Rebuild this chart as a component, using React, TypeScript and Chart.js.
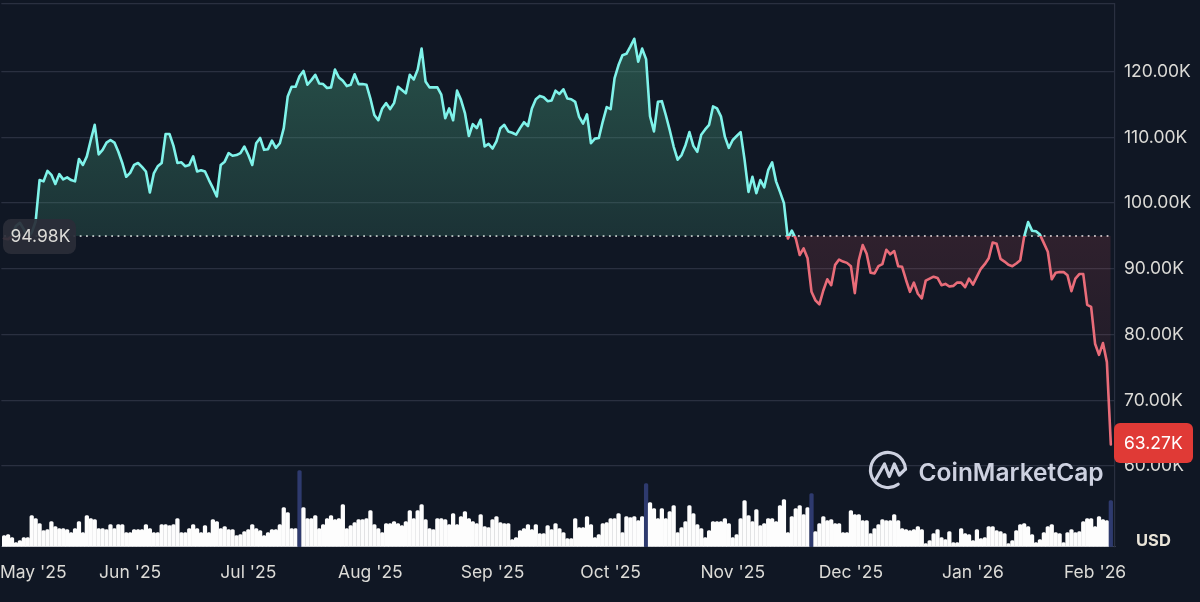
import React, { useEffect, useRef } from 'react';
import { Chart, registerables } from 'chart.js';

Chart.register(...registerables);

// daily close in thousands USD, day 0 = Apr 30 2025
const prices: number[] = [
  94.6, 94.5, 95.0, 96.5, 97.0, 96.0, 94.8, 95.5, 97.2, 103.5, 103.3, 104.9, 104.3, 102.9, 104.4, 103.6, 103.9, 103.5, 103.3, 106.7,
  105.8, 107.1, 109.6, 111.9, 107.4, 108.1, 109.2, 109.6, 109.2, 107.8, 106.1, 104.0, 104.6, 105.8, 106.1, 105.5, 104.8, 101.6, 104.5, 105.6,
  106.1, 110.5, 110.5, 108.7, 106.1, 106.2, 105.6, 105.8, 107.1, 104.8, 105.0, 104.8, 103.5, 102.3, 101.0, 105.8, 106.3, 107.6, 107.2, 107.3,
  107.6, 108.6, 107.3, 105.8, 109.1, 109.9, 108.1, 108.2, 109.5, 108.4, 109.1, 111.4, 116.2, 117.7, 117.7, 119.3, 120.1, 118.0, 118.7, 119.5,
  118.2, 118.1, 117.5, 117.6, 120.3, 119.1, 118.6, 117.8, 118.0, 119.6, 118.1, 118.1, 118.0, 115.9, 113.4, 112.6, 114.4, 115.2, 114.3, 115.2,
  117.7, 117.2, 116.7, 119.5, 118.8, 120.3, 123.5, 118.5, 117.6, 117.6, 117.6, 116.5, 112.9, 114.4, 112.6, 117.1, 115.7, 113.7, 110.2, 112.0,
  111.4, 112.7, 108.6, 109.0, 108.3, 109.4, 111.4, 111.9, 110.9, 110.7, 110.4, 111.4, 112.3, 111.7, 114.4, 115.8, 116.3, 116.1, 115.5, 115.6,
  117.1, 116.6, 117.3, 115.9, 115.8, 115.4, 113.1, 112.1, 113.5, 109.1, 109.8, 109.9, 112.4, 114.6, 114.3, 119.0, 121.0, 122.5, 122.7, 123.8,
  125.0, 121.5, 123.5, 121.9, 113.2, 110.9, 115.4, 115.5, 113.4, 111.1, 108.6, 106.6, 107.3, 108.8, 110.8, 108.7, 107.8, 110.4, 111.2, 111.9,
  114.7, 114.4, 113.2, 110.1, 108.4, 109.6, 110.2, 110.8, 106.6, 101.7, 104.0, 101.5, 103.5, 102.4, 105.0, 106.2, 103.3, 101.7, 100.0, 94.6,
  95.8, 94.6, 92.1, 93.1, 91.6, 86.5, 85.2, 84.6, 86.7, 88.4, 87.5, 90.6, 91.4, 91.1, 90.9, 90.4, 86.3, 91.3, 93.6, 92.3,
  89.4, 89.3, 90.4, 90.7, 92.9, 92.2, 92.7, 90.4, 90.3, 88.3, 86.5, 87.9, 86.2, 85.5, 88.2, 88.5, 88.8, 88.6, 87.5, 87.7,
  87.3, 87.4, 87.9, 87.9, 87.2, 88.5, 87.6, 88.8, 90.0, 90.7, 91.6, 94.0, 93.8, 91.5, 91.1, 90.6, 90.4, 90.8, 91.3, 94.9,
  97.1, 95.8, 95.7, 95.2, 93.9, 92.6, 88.4, 89.4, 89.5, 89.5, 89.0, 86.6, 88.5, 89.2, 89.2, 84.5, 84.2, 78.6, 76.9, 78.7,
  75.8, 63.27,
];

// daily volume, rough billions USD
const volumes: number[] = [
  11, 12, 9, 4, 6, 9, 9, 31, 28, 23, 16, 17, 25, 20, 18, 18, 17, 14, 18, 25,
  14, 31, 28, 27, 18, 18, 17, 22, 18, 22, 22, 14, 14, 17, 17, 17, 22, 18, 14, 14,
  22, 22, 21, 22, 28, 14, 14, 18, 22, 18, 14, 21, 14, 27, 25, 18, 20, 17, 17, 11,
  12, 15, 17, 22, 18, 16, 11, 14, 17, 17, 22, 39, 34, 18, 18, 76, 39, 28, 28, 31,
  18, 22, 28, 31, 27, 28, 42, 18, 21, 24, 27, 27, 28, 36, 22, 18, 14, 23, 23, 25,
  23, 21, 25, 36, 28, 36, 42, 27, 18, 17, 28, 28, 27, 22, 33, 22, 30, 35, 28, 25,
  23, 32, 20, 19, 27, 30, 24, 23, 23, 7, 9, 16, 18, 22, 17, 22, 13, 13, 21, 17,
  23, 18, 14, 8, 8, 28, 19, 19, 30, 22, 9, 12, 23, 24, 28, 28, 33, 14, 30, 29,
  30, 26, 30, 63, 44, 38, 28, 38, 28, 35, 41, 14, 19, 25, 41, 33, 22, 18, 9, 16,
  25, 25, 25, 28, 23, 9, 12, 28, 46, 31, 25, 37, 21, 23, 28, 28, 25, 41, 47, 14,
  30, 38, 41, 32, 39, 53, 15, 23, 30, 26, 27, 23, 23, 14, 14, 36, 32, 32, 26, 26,
  13, 18, 22, 27, 26, 26, 32, 26, 18, 17, 16, 17, 20, 17, 3, 6, 13, 17, 9, 7,
  15, 4, 4, 18, 13, 12, 6, 17, 8, 9, 20, 20, 16, 15, 13, 3, 6, 16, 22, 23,
  20, 12, 4, 7, 14, 20, 22, 14, 13, 4, 14, 17, 14, 15, 25, 28, 28, 20, 30, 27,
  26, 46,
];

// days with the highlighted (navy) volume bar
const peakDays = [75, 163, 205, 281];

const baseline = 94.98;
const lastPrice = '63.27K';
const baselineLabel = '94.98K';

const priceTicks = [60, 70, 80, 90, 100, 110, 120];
const priceLabels = ['60.00K', '70.00K', '80.00K', '90.00K', '100.00K', '110.00K', '120.00K'];

// month start days; May is pulled inward so its label stays on the canvas
const monthDays = [7.4, 32, 62, 93, 124, 154, 185, 215, 246, 277];
const monthLabels = ["May '25", "Jun '25", "Jul '25", "Aug '25", "Sep '25", "Oct '25", "Nov '25", "Dec '25", "Jan '26", "Feb '26"];

const BG = '#101724';
const GRID = '#2a3040';
const TEAL = '#7ff3ea';
const RED = '#e96c79';
const TEXT = '#dcdbd7';
const FONT = 'Inter';

const roundRect = (ctx: CanvasRenderingContext2D, x: number, y: number, w: number, h: number, r: number, fill: string) => {
  ctx.beginPath();
  ctx.roundRect(x, y, w, h, r);
  ctx.fillStyle = fill;
  ctx.fill();
};

const background = {
  id: 'background',
  beforeDraw(chart: Chart) {
    const { ctx, width, height } = chart;
    ctx.save();
    ctx.fillStyle = BG;
    ctx.fillRect(0, 0, width, height);
    ctx.restore();
  },
};

const overlays = {
  id: 'overlays',
  afterDraw(chart: Chart) {
    const { ctx } = chart;
    const y = chart.scales.y;
    ctx.save();
    ctx.textBaseline = 'middle';

    // start price tag
    const by = y.getPixelForValue(baseline);
    roundRect(ctx, 3, by - 17, 73, 35, 8, 'rgba(42,45,56,0.93)');
    ctx.font = `17.5px ${FONT}`;
    ctx.fillStyle = TEXT;
    ctx.textAlign = 'left';
    ctx.fillText(baselineLabel, 10.5, by + 1);

    // current price tag
    roundRect(ctx, 1114, 423, 79, 40, 6, '#e03a36');
    ctx.fillStyle = '#ffffff';
    ctx.fillText(lastPrice, 1124, 444);

    // currency
    ctx.font = `700 16.5px ${FONT}`;
    ctx.fillStyle = '#e9e4d8';
    ctx.fillText('USD', 1136, 541);

    // watermark
    ctx.strokeStyle = '#cdd1e0';
    ctx.fillStyle = '#cdd1e0';
    ctx.lineWidth = 3.2;
    ctx.lineCap = 'round';
    ctx.lineJoin = 'round';
    ctx.beginPath();
    ctx.arc(888, 470, 17.5, 0.95, 0.05 + Math.PI * 2 - 0.1);
    ctx.stroke();
    ctx.beginPath();
    ctx.moveTo(876, 479);
    ctx.lineTo(884.5, 464);
    ctx.lineTo(889.3, 476.5);
    ctx.lineTo(894.3, 464);
    ctx.lineTo(899.3, 475);
    ctx.lineTo(905.5, 469);
    ctx.stroke();
    ctx.font = `600 24.5px ${FONT}`;
    ctx.textBaseline = 'alphabetic';
    ctx.fillText('CoinMarketCap', 918.5, 481);
    ctx.restore();
  },
};

const App: React.FC = () => {
  const chartRef = useRef<HTMLCanvasElement>(null);

  useEffect(() => {
    document.body.style.margin = '0';
    document.body.style.background = BG;
    if (!chartRef.current) return;

    const days = prices.map((_, i) => i);

    const chart = new Chart(chartRef.current, {
      type: 'line',
      data: {
        datasets: [
          {
            type: 'line',
            data: days.map((d) => ({ x: d, y: baseline })),
            yAxisID: 'y',
            borderColor: '#f2f2f2',
            borderWidth: 1.6,
            borderDash: [1.8, 4.5],
            pointRadius: 0,
            fill: false,
            order: 1,
          },
          {
            type: 'line',
            data: days.map((d) => ({ x: d, y: prices[d] })),
            yAxisID: 'y',
            borderColor: TEAL,
            borderWidth: 2.6,
            borderJoinStyle: 'round',
            borderCapStyle: 'round',
            pointRadius: 0,
            tension: 0,
            fill: { target: { value: baseline }, above: 'rgba(60,130,105,0.3)', below: 'rgba(233,108,121,0.1)' },
            order: 0,
          },
          {
            type: 'bar',
            data: days.map((d) => ({ x: d, y: volumes[d] })),
            yAxisID: 'vol',
            backgroundColor: days.map((d) => (peakDays.includes(d) ? '#2e3a6e' : '#fdfdfd')),
            barThickness: 3.6,
            borderRadius: { topLeft: 1.5, topRight: 1.5 },
            order: 2,
          },
        ],
      } as any,
      options: {
        animation: false,
        responsive: false,
        devicePixelRatio: 1,
        layout: { padding: { top: 3.7, left: 0, right: 0, bottom: 0 } },
        plugins: { legend: { display: false }, tooltip: { enabled: false } },
        scales: {
          x: {
            type: 'linear',
            min: -0.72,
            max: 282.06,
            offset: false,
            grid: { display: false, drawTicks: false },
            border: { display: true, color: '#3a4050', width: 1 },
            afterBuildTicks: (scale: any) => {
              scale.ticks = monthDays.map((value) => ({ value }));
            },
            afterFit: (scale: any) => {
              scale.height = 55.3;
              scale.paddingLeft = 0;
              scale.paddingRight = 0;
            },
            ticks: {
              autoSkip: false,
              maxRotation: 0,
              padding: 16,
              color: TEXT,
              font: { family: FONT, size: 17.5 },
              callback: (_v: any, i: number) => monthLabels[i],
            },
          },
          y: {
            position: 'right',
            min: 47.72,
            max: 130.33,
            grid: { color: GRID, lineWidth: 1.2, drawTicks: false },
            border: { display: true, color: GRID, width: 1.2 },
            afterBuildTicks: (scale: any) => {
              scale.ticks = [...priceTicks, 130.33].map((value) => ({ value }));
            },
            afterFit: (scale: any) => {
              scale.width = 85;
              scale.paddingTop = 0;
              scale.paddingBottom = 0;
            },
            ticks: {
              padding: 9,
              color: TEXT,
              font: { family: FONT, size: 17.5 },
              callback: (_v: any, i: number) => priceLabels[i] ?? '',
            },
          },
          vol: {
            display: false,
            min: 0,
            max: 543,
          },
        },
      },
      plugins: [background, overlays],
    } as any);

    // hard colour switch at the start price, needs the laid-out scale
    const { ctx, scales, chartArea } = chart;
    const y0 = scales.y.getPixelForValue(baseline);
    const split = (y0 - chartArea.top) / (chartArea.bottom - chartArea.top);
    const stroke = ctx.createLinearGradient(0, chartArea.top, 0, chartArea.bottom);
    stroke.addColorStop(0, TEAL);
    stroke.addColorStop(split, TEAL);
    stroke.addColorStop(split, RED);
    stroke.addColorStop(1, RED);
    const above = ctx.createLinearGradient(0, scales.y.getPixelForValue(125), 0, y0);
    above.addColorStop(0, 'rgba(72,160,125,0.42)');
    above.addColorStop(1, 'rgba(72,160,125,0.2)');
    const below = ctx.createLinearGradient(0, y0, 0, scales.y.getPixelForValue(63));
    below.addColorStop(0, 'rgba(233,90,100,0.14)');
    below.addColorStop(0.5, 'rgba(233,90,100,0.09)');
    below.addColorStop(1, 'rgba(233,90,100,0)');
    const ds = chart.data.datasets[1] as any;
    ds.borderColor = stroke;
    ds.fill = { target: { value: baseline }, above, below };
    chart.update('none');

    return () => {
      chart.destroy();
    };
  }, []);

  return <canvas ref={chartRef} width={1200} height={602} style={{ display: 'block' }} />;
};

export default App;
